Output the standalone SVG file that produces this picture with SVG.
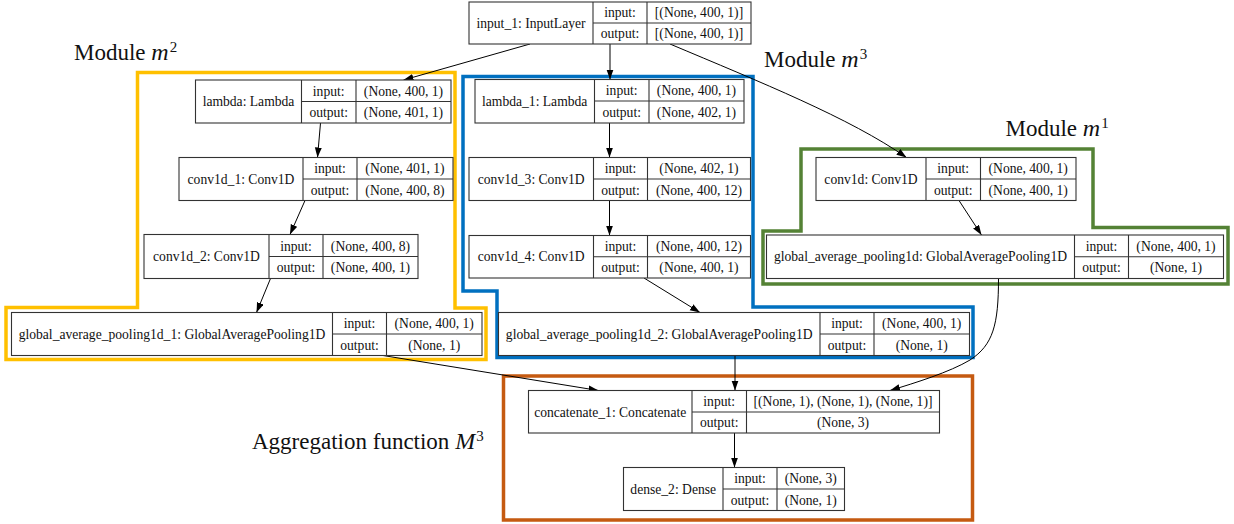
<svg xmlns="http://www.w3.org/2000/svg" width="1234" height="524" viewBox="0 0 1234 524">
<defs>
<style>
.box{fill:#fff;stroke:#333;stroke-width:1.1}
.ln{stroke:#333;stroke-width:1.1;fill:none}
.t{font-family:"Liberation Serif","Times New Roman",serif;font-size:13.6px;fill:#111;text-anchor:middle}
.e{stroke:#000;stroke-width:1;fill:none;marker-end:url(#ah)}
.mod{fill:none;stroke-width:3.5;stroke-linejoin:miter}
.lbl{font-family:"Liberation Serif","Times New Roman",serif;font-size:23px;fill:#111}
.mi{font-style:italic;font-size:24px}
.sup{font-size:15px}
</style>
<marker id="ah" markerUnits="userSpaceOnUse" markerWidth="11" markerHeight="8" refX="10" refY="3.5" orient="auto">
<path d="M0,0 L10,3.5 L0,7 z" fill="#000"/>
</marker>
</defs>
<rect width="1234" height="524" fill="#fff"/>

<g id="modules">
<polygon class="mod" stroke="#FFC000" points="137.5,72.5 455,72.5 455,308 486,308 486,359.5 6,359.5 6,307.5 137.5,307.5"/>
<polygon class="mod" stroke="#0070C0" points="463,76.5 753,76.5 753,307 973,307 973,357.5 497,357.5 497,291 463,291"/>
<polygon class="mod" stroke="#548235" points="801,149 1093,149 1093,227.5 1228,227.5 1228,284 763,284 763,231 801,231"/>
<rect class="mod" stroke="#C55A11" x="503.5" y="376" width="469" height="144"/>
</g>

<g id="labels">
<text class="lbl" x="74" y="60">Module <tspan class="mi">m</tspan><tspan class="sup" dx="1" dy="-8">2</tspan></text>
<text class="lbl" x="764" y="67">Module <tspan class="mi">m</tspan><tspan class="sup" dx="1" dy="-8">3</tspan></text>
<text class="lbl" x="1005.5" y="135.5">Module <tspan class="mi">m</tspan><tspan class="sup" dx="1" dy="-8">1</tspan></text>
<text class="lbl" x="252" y="449">Aggregation function <tspan class="mi">M</tspan><tspan class="sup" dx="1" dy="-8">3</tspan></text>
</g>

<g id="connectors">
<path class="e" d="M530,44 L403.5,80"/>
<path class="e" d="M610,44 L610,79.5"/>
<path class="e" d="M670,44 C760,82 850,118 906.5,157.5"/>
<path class="e" d="M320.5,123 L317.5,157.5"/>
<path class="e" d="M305,200.5 L290,234.5"/>
<path class="e" d="M270.5,278.5 L256.5,312.5"/>
<path class="e" d="M609.5,123 L609.5,157.5"/>
<path class="e" d="M609.5,200.5 L609.5,235.5"/>
<path class="e" d="M644,278 L700,312.5"/>
<path class="e" d="M959,200.5 L981.5,235"/>
<path class="e" d="M383,355.5 L598.5,390.5"/>
<path class="e" d="M735,355.5 L735,390.5"/>
<path class="e" d="M998.5,278.5 C998.5,325 993,345 970,360 C950,372 915,383 890,390.5"/>
<path class="e" d="M734.5,433 L734.5,467.5"/>
</g>

<g id="input_1">
<rect class="box" x="469" y="2" width="282" height="42"/>
<path class="ln" d="M593,2V44M647,2V44M593,23H751"/>
<text class="t" x="531" y="27.5">input_1: InputLayer</text>
<text class="t" x="620" y="17.2">input:</text>
<text class="t" x="620" y="38.2">output:</text>
<text class="t" x="699" y="17.2">[(None, 400, 1)]</text>
<text class="t" x="699" y="38.2">[(None, 400, 1)]</text>
</g>

<g id="lambda">
<rect class="box" x="195.5" y="80" width="255.5" height="43"/>
<path class="ln" d="M301.5,80V123M356,80V123M301.5,101.5H451"/>
<text class="t" x="248.5" y="106">lambda: Lambda</text>
<text class="t" x="328.7" y="95.5">input:</text>
<text class="t" x="328.7" y="117">output:</text>
<text class="t" x="403.5" y="95.5">(None, 400, 1)</text>
<text class="t" x="403.5" y="117">(None, 401, 1)</text>
</g>

<g id="conv1d_1">
<rect class="box" x="179" y="157.5" width="274" height="43"/>
<path class="ln" d="M303,157.5V200.5M357,157.5V200.5M303,179H453"/>
<text class="t" x="241" y="183.7">conv1d_1: Conv1D</text>
<text class="t" x="330" y="173">input:</text>
<text class="t" x="330" y="194.5">output:</text>
<text class="t" x="405" y="173">(None, 401, 1)</text>
<text class="t" x="405" y="194.5">(None, 400, 8)</text>
</g>

<g id="conv1d_2">
<rect class="box" x="144" y="234.5" width="274" height="44"/>
<path class="ln" d="M269,234.5V278.5M323,234.5V278.5M269,256.5H418"/>
<text class="t" x="206.5" y="261.2">conv1d_2: Conv1D</text>
<text class="t" x="296" y="250.5">input:</text>
<text class="t" x="296" y="272.2">output:</text>
<text class="t" x="370.5" y="250.5">(None, 400, 8)</text>
<text class="t" x="370.5" y="272.2">(None, 400, 1)</text>
</g>

<g id="global_average_pooling1d_1">
<rect class="box" x="11.5" y="312.5" width="470.5" height="43"/>
<path class="ln" d="M332.5,312.5V355.5M386.5,312.5V355.5M332.5,334H482"/>
<text class="t" x="172" y="338.7">global_average_pooling1d_1: GlobalAveragePooling1D</text>
<text class="t" x="359.5" y="328">input:</text>
<text class="t" x="359.5" y="349.5">output:</text>
<text class="t" x="434.2" y="328">(None, 400, 1)</text>
<text class="t" x="434.2" y="349.5">(None, 1)</text>
</g>

<g id="lambda_1">
<rect class="box" x="475" y="79.5" width="269" height="43.5"/>
<path class="ln" d="M594.5,79.5V123M649,79.5V123M594.5,101H744"/>
<text class="t" x="534.7" y="105.7">lambda_1: Lambda</text>
<text class="t" x="621.7" y="95">input:</text>
<text class="t" x="621.7" y="116.7">output:</text>
<text class="t" x="696.5" y="95">(None, 400, 1)</text>
<text class="t" x="696.5" y="116.7">(None, 402, 1)</text>
</g>

<g id="conv1d_3">
<rect class="box" x="469" y="157.5" width="281.5" height="43"/>
<path class="ln" d="M593.5,157.5V200.5M647.5,157.5V200.5M593.5,179H750.5"/>
<text class="t" x="531.2" y="183.7">conv1d_3: Conv1D</text>
<text class="t" x="620.5" y="173">input:</text>
<text class="t" x="620.5" y="194.5">output:</text>
<text class="t" x="699" y="173">(None, 402, 1)</text>
<text class="t" x="699" y="194.5">(None, 400, 12)</text>
</g>

<g id="conv1d_4">
<rect class="box" x="469" y="235.5" width="281.5" height="42.5"/>
<path class="ln" d="M593.5,235.5V278M647.5,235.5V278M593.5,256.7H750.5"/>
<text class="t" x="531.2" y="261.4">conv1d_4: Conv1D</text>
<text class="t" x="620.5" y="250.8">input:</text>
<text class="t" x="620.5" y="272.2">output:</text>
<text class="t" x="699" y="250.8">(None, 400, 12)</text>
<text class="t" x="699" y="272.2">(None, 400, 1)</text>
</g>

<g id="global_average_pooling1d_2">
<rect class="box" x="498.5" y="312.5" width="471" height="43"/>
<path class="ln" d="M820,312.5V355.5M874,312.5V355.5M820,334H969.5"/>
<text class="t" x="659.2" y="338.7">global_average_pooling1d_2: GlobalAveragePooling1D</text>
<text class="t" x="847" y="328">input:</text>
<text class="t" x="847" y="349.5">output:</text>
<text class="t" x="921.7" y="328">(None, 400, 1)</text>
<text class="t" x="921.7" y="349.5">(None, 1)</text>
</g>

<g id="conv1d">
<rect class="box" x="816" y="157.5" width="260" height="43"/>
<path class="ln" d="M926,157.5V200.5M980.5,157.5V200.5M926,179H1076"/>
<text class="t" x="871" y="183.7">conv1d: Conv1D</text>
<text class="t" x="953.2" y="173">input:</text>
<text class="t" x="953.2" y="194.5">output:</text>
<text class="t" x="1028.2" y="173">(None, 400, 1)</text>
<text class="t" x="1028.2" y="194.5">(None, 400, 1)</text>
</g>

<g id="global_average_pooling1d">
<rect class="box" x="766.5" y="235" width="457" height="43.5"/>
<path class="ln" d="M1074.5,235V278.5M1128.5,235V278.5M1074.5,256.7H1223.5"/>
<text class="t" x="920.5" y="261.4">global_average_pooling1d: GlobalAveragePooling1D</text>
<text class="t" x="1101.5" y="250.6">input:</text>
<text class="t" x="1101.5" y="272.4">output:</text>
<text class="t" x="1176" y="250.6">(None, 400, 1)</text>
<text class="t" x="1176" y="272.4">(None, 1)</text>
</g>

<g id="concatenate_1">
<rect class="box" x="528.5" y="390.5" width="411" height="42.5"/>
<path class="ln" d="M692,390.5V433M746.5,390.5V433M692,412H939.5"/>
<text class="t" x="610.2" y="416.7">concatenate_1: Concatenate</text>
<text class="t" x="719.2" y="406">input:</text>
<text class="t" x="719.2" y="427.3">output:</text>
<text class="t" x="843" y="406">[(None, 1), (None, 1), (None, 1)]</text>
<text class="t" x="843" y="427.3">(None, 3)</text>
</g>

<g id="dense_2">
<rect class="box" x="623.5" y="467.5" width="221" height="43"/>
<path class="ln" d="M723,467.5V510.5M777,467.5V510.5M723,489H844.5"/>
<text class="t" x="673.2" y="493.7">dense_2: Dense</text>
<text class="t" x="750" y="483">input:</text>
<text class="t" x="750" y="504.5">output:</text>
<text class="t" x="810.7" y="483">(None, 3)</text>
<text class="t" x="810.7" y="504.5">(None, 1)</text>
</g>
</svg>
